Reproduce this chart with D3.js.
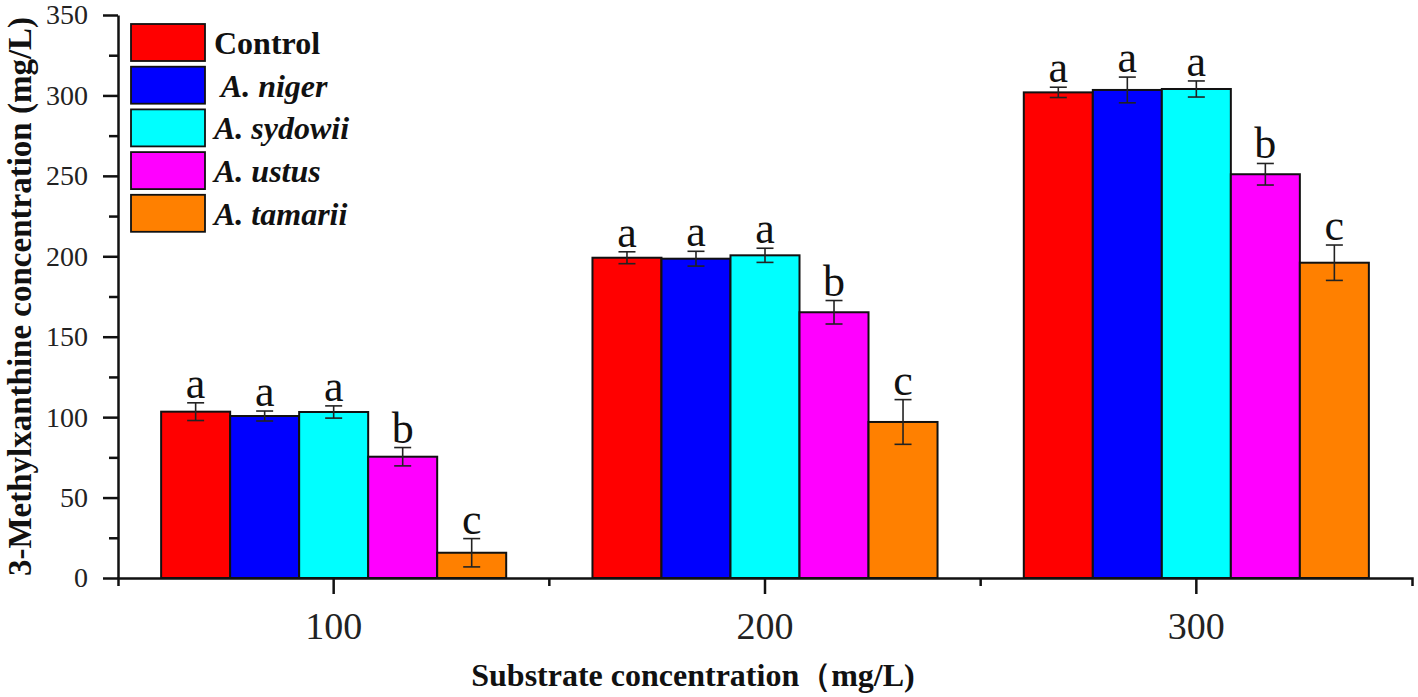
<!DOCTYPE html>
<html>
<head>
<meta charset="utf-8">
<script src="https://cdn.jsdelivr.net/npm/d3@7"></script>
<style>
  html, body { margin: 0; padding: 0; background: #fff; }
  svg { display: block; }
  text { font-family: "Liberation Serif", "Times New Roman", serif; }
</style>
</head>
<body>
<svg id="chart" width="1418" height="697"></svg>
<script>
// ---- data ----
const categories = ["100", "200", "300"];
const seriesNames = ["Control", " A. niger", "A. sydowii", "A. ustus", "A. tamarii"];
const seriesColors = ["#FF0000", "#0000FF", "#00FFFF", "#FF00FF", "#FF8000"];
const controlMean = [103.4, 199.1, 301.9];
const nigerMean   = [100.7, 198.5, 303.4];
const sydowiiMean = [103.2, 200.6, 304.0];
const ustusMean   = [75.4, 165.2, 251.0];
const tamariiMean = [15.7, 97.0, 196.0];
const controlErr = [5.5, 3.7, 3.2];
const nigerErr   = [3.1, 4.6, 8.0];
const sydowiiErr = [3.8, 4.4, 5.0];
const ustusErr   = [5.7, 7.3, 6.7];
const tamariiErr = [8.8, 13.9, 11.0];
const sigLetters = ["a", "a", "a", "b", "c"];
const yMajorTicks = [0, 50, 100, 150, 200, 250, 300, 350];
const yMinorTicks = [25, 75, 125, 175, 225, 275, 325];
const yTitle = "3-Methylxanthine concentration (mg/L)";
const xTitle = "Substrate concentration（mg/L)";

const means = [controlMean, nigerMean, sydowiiMean, ustusMean, tamariiMean];
const errs = [controlErr, nigerErr, sydowiiErr, ustusErr, tamariiErr];

// ---- layout ----
const svg = d3.select("#chart");
const mLeft = 118, mRight = 1412, mTop = 15, mBottom = 578;

const x = d3.scaleBand().domain(categories).range([mLeft, mRight]).padding(0);
const bw = x.bandwidth();
const xi = d3.scaleBand().domain(d3.range(seriesNames.length)).range([0.1 * bw, 0.9 * bw]).padding(0);
const y = d3.scaleLinear().domain([0, 350]).range([mBottom, mTop]);

const records = [];
categories.forEach((c, ci) => {
  seriesNames.forEach((s, si) => {
    records.push({ cat: c, si, mean: means[si][ci], err: errs[si][ci], letter: sigLetters[si] });
  });
});

// bars
svg.append("g").selectAll("rect").data(records).join("rect")
  .attr("x", d => x(d.cat) + xi(d.si))
  .attr("y", d => y(d.mean))
  .attr("width", xi.bandwidth())
  .attr("height", d => y(0) - y(d.mean))
  .attr("fill", d => seriesColors[d.si])
  .attr("stroke", "#111")
  .attr("stroke-width", 2);

// error bars
const eg = svg.append("g").attr("stroke", "#222").attr("stroke-width", 1.6);
records.forEach(d => {
  const cx = x(d.cat) + xi(d.si) + xi.bandwidth() / 2;
  const y1 = y(d.mean + d.err), y2 = y(d.mean - d.err);
  eg.append("line").attr("x1", cx).attr("x2", cx).attr("y1", y1).attr("y2", y2);
  eg.append("line").attr("x1", cx - 8.5).attr("x2", cx + 8.5).attr("y1", y1).attr("y2", y1);
  eg.append("line").attr("x1", cx - 8.5).attr("x2", cx + 8.5).attr("y1", y2).attr("y2", y2);
});

// significance letters
svg.append("g").selectAll("text").data(records).join("text")
  .attr("x", d => x(d.cat) + xi(d.si) + xi.bandwidth() / 2)
  .attr("y", d => y(d.mean + d.err) - 5)
  .attr("text-anchor", "middle")
  .attr("font-size", 44)
  .attr("fill", "#111")
  .text(d => d.letter);

// y axis
const yAxis = svg.append("g").attr("transform", `translate(${mLeft},0)`)
  .call(d3.axisLeft(y).tickValues(yMajorTicks).tickSize(15).tickSizeOuter(0).tickPadding(15));
yAxis.selectAll("text").attr("font-size", 28).attr("fill", "#222")
  .style("font-family", '"Liberation Serif", "Times New Roman", serif');
const yMinor = svg.append("g").attr("transform", `translate(${mLeft},0)`)
  .call(d3.axisLeft(y).tickValues(yMinorTicks).tickSize(9).tickFormat(""));
yMinor.select(".domain").remove();

// x axis
const xAxis = svg.append("g").attr("transform", `translate(0,${mBottom})`)
  .call(d3.axisBottom(x).tickSize(16).tickSizeOuter(8).tickPadding(18));
xAxis.selectAll("text").attr("font-size", 38).attr("fill", "#222")
  .style("font-family", '"Liberation Serif", "Times New Roman", serif');
// minor ticks at band boundaries
xAxis.append("g").selectAll("line").data(categories.slice(1)).join("line")
  .attr("x1", d => x(d)).attr("x2", d => x(d))
  .attr("y1", 0).attr("y2", 8).attr("stroke", "#000");

[yAxis, yMinor, xAxis].forEach(g => {
  g.selectAll("path, line").attr("stroke", "#111").attr("stroke-width", 2.5);
});

// axis titles
svg.append("text")
  .attr("transform", `translate(31,${(mTop + mBottom) / 2}) rotate(-90)`)
  .attr("text-anchor", "middle")
  .attr("font-size", 33)
  .attr("font-weight", "bold")
  .attr("fill", "#111")
  .text(yTitle);

svg.append("text")
  .attr("x", 693)
  .attr("y", 686)
  .attr("text-anchor", "middle")
  .attr("font-size", 32)
  .attr("font-weight", "bold")
  .attr("fill", "#111")
  .text(xTitle);

// legend
const legend = svg.append("g").attr("transform", "translate(131,24)");
const items = legend.selectAll("g").data(seriesNames).join("g")
  .attr("transform", (d, i) => `translate(0,${i * 42.7})`);
items.append("rect")
  .attr("width", 74).attr("height", 37)
  .attr("fill", (d, i) => seriesColors[i])
  .attr("stroke", "#111").attr("stroke-width", 1.8);
items.append("text")
  .attr("x", 83).attr("y", 30)
  .attr("font-size", 32)
  .attr("font-weight", "bold")
  .attr("font-style", (d, i) => i === 0 ? "normal" : "italic")
  .attr("fill", "#111")
  .style("white-space", "pre")
  .text(d => d);
</script>
</body>
</html>
